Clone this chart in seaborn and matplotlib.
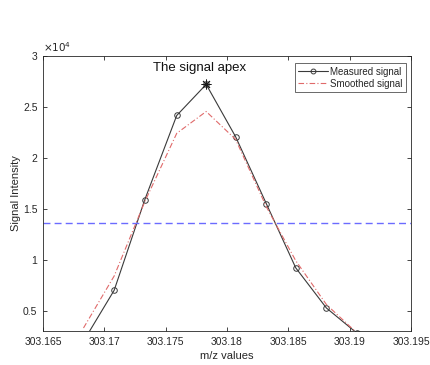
import numpy as np
import pandas as pd
import matplotlib
matplotlib.use("Agg")
import matplotlib.pyplot as plt
from matplotlib.lines import Line2D
import seaborn as sns
from matplotlib.ticker import FuncFormatter, FixedLocator

# m/z sampling positions of the peak
mz = [303.1683, 303.1708, 303.1733, 303.1759, 303.1783, 303.1807,
      303.1832, 303.1856, 303.1881, 303.1906]
# raw intensities
measured = [2000, 7000, 15900, 24150, 27200, 22060, 15500, 9200, 5260, 2780]
# smoothed intensities
smoothed = [3300, 8400, 15700, 22400, 24540, 21800, 15200, 9900, 5600, 2800]

apex_mz = 303.1783
apex_val = 27200
half_max = apex_val / 2

x_ticks = [303.165, 303.17, 303.175, 303.18, 303.185, 303.19, 303.195]
y_ticks = [5000, 10000, 15000, 20000, 25000, 30000]

df = pd.DataFrame({"mz": mz, "Measured signal": measured, "Smoothed signal": smoothed})

sns.set_theme(style="white")
plt.rcParams["font.family"] = ["Liberation Sans", "DejaVu Sans"]

fig = plt.figure(figsize=(4.3, 3.65), dpi=100)
ax = fig.add_axes([0.100, 0.093, 0.856, 0.754])

meas_style = dict(color="#3a3a3a", linewidth=0.8, marker="o", markersize=4,
                  markerfacecolor="none", markeredgecolor="#3a3a3a",
                  markeredgewidth=0.7)
smooth_style = dict(color="#e06a6a", linewidth=0.8, linestyle=(0, (5, 2, 1, 2)))

sns.lineplot(data=df, x="mz", y="Measured signal", ax=ax, sort=False, **meas_style)
sns.lineplot(data=df, x="mz", y="Smoothed signal", ax=ax, sort=False, **smooth_style)
ax.axhline(half_max, color="#6b6bff", linewidth=1.0, linestyle=(0, (5, 3)))

ax.plot([apex_mz], [apex_val], marker=(8, 2, 0), markersize=7,
        color="#1a1a1a", markeredgewidth=0.7, linestyle="none")
ax.text(apex_mz - 0.0005, apex_val + 1000, "The signal apex", ha="center",
        va="bottom", fontsize=9.5, color="#111111")

ax.set_xlim(303.165, 303.195)
ax.set_ylim(3000, 30000)
ax.xaxis.set_major_locator(FixedLocator(x_ticks))
ax.yaxis.set_major_locator(FixedLocator(y_ticks))
ax.xaxis.set_major_formatter(FuncFormatter(lambda v, p: f"{v:.3f}".rstrip("0")))
ax.yaxis.set_major_formatter(FuncFormatter(lambda v, p: f"{v/1e4:g}"))
ax.tick_params(direction="in", length=3, width=0.6, colors="#262626",
               labelsize=7.5, top=True, right=True, bottom=True, left=True,
               labeltop=False, labelright=False, pad=4)
for s in ax.spines.values():
    s.set_color("#262626")
    s.set_linewidth(0.6)
    s.set_visible(True)

ax.text(0.0, 1.005, r"$\times 10^{4}$", transform=ax.transAxes, fontsize=7.5,
        color="#262626", ha="left", va="bottom")

ax.set_xlabel("m/z values", fontsize=8, color="#262626", labelpad=3)
ax.set_ylabel("Signal Intensity", fontsize=8, color="#262626", labelpad=1.5)

handles = [
    Line2D([], [], **{**meas_style, "markersize": 3.5}),
    Line2D([], [], **smooth_style),
]
leg = ax.legend(handles, ["Measured signal", "Smoothed signal"],
                loc="upper right", fontsize=7, frameon=True, fancybox=False,
                edgecolor="#262626", borderpad=0.35, handlelength=3.0,
                handletextpad=0.3, labelspacing=0.2, numpoints=1,
                bbox_to_anchor=(1.0, 0.99))
leg.get_frame().set_linewidth(0.6)

fig.savefig("out.png", dpi=100, facecolor="white")
